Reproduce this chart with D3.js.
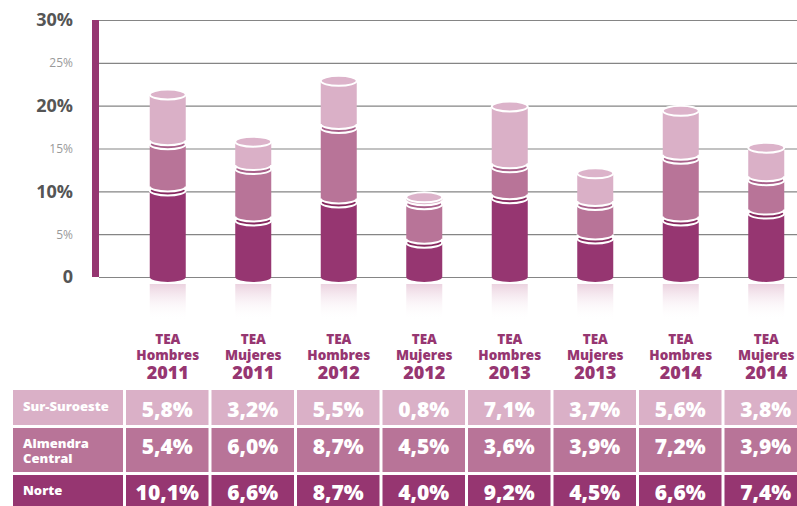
<!DOCTYPE html>
<html>
<head>
<meta charset="utf-8">
<script src="https://cdn.jsdelivr.net/npm/d3@7"></script>
<style>
  body { margin: 0; background: #fff; }
  svg { font-family: "Open Sans", sans-serif; display: block; }
</style>
</head>
<body>
<div id="chart"></div>
<script>
// chart data
const categories = ["TEA Hombres 2011", "TEA Mujeres 2011", "TEA Hombres 2012", "TEA Mujeres 2012",
  "TEA Hombres 2013", "TEA Mujeres 2013", "TEA Hombres 2014", "TEA Mujeres 2014"];
const series = ["Norte", "Almendra Central", "Sur-Suroeste"];
const norte = [10.1, 6.6, 8.7, 4.0, 9.2, 4.5, 6.6, 7.4];
const almendra = [5.4, 6.0, 8.7, 4.5, 3.6, 3.9, 7.2, 3.9];
const surSuroeste = [5.8, 3.2, 5.5, 0.8, 7.1, 3.7, 5.6, 3.8];
const yTicks = [0, 5, 10, 15, 20, 25, 30];

const colors = { "Norte": "#963671", "Almendra Central": "#b87498", "Sur-Suroeste": "#dab0c7" };
const capColors = { "Norte": "#86295f", "Almendra Central": "#a8608a", "Sur-Suroeste": "#dcb3ca" };
const values = { "Norte": norte, "Almendra Central": almendra, "Sur-Suroeste": surSuroeste };

const W = 797, H = 506;
const svg = d3.select("#chart").append("svg").attr("width", W).attr("height", H);

const x = d3.scaleBand().domain(categories).range([125, 125 + 8 * 85.5]).padding(0);
const y = d3.scaleLinear().domain([0, 30]).range([277, 20]);

// gridlines
svg.append("g")
  .attr("transform", "translate(99,0)")
  .call(d3.axisLeft(y).tickValues(yTicks).tickSize(-(W - 99)).tickFormat(""))
  .call(g => g.select(".domain").remove())
  .call(g => g.selectAll("line").attr("stroke", "#858585").attr("stroke-width", 1.2));

// y labels
svg.append("g")
  .attr("transform", "translate(73,0)")
  .call(d3.axisLeft(y).tickValues(yTicks).tickSize(0).tickPadding(0)
    .tickFormat(d => d === 0 ? "0" : d + "%"))
  .call(g => g.select(".domain").remove())
  .call(g => g.selectAll("text")
    .attr("font-family", "Open Sans, sans-serif")
    .attr("font-size", d => d % 10 === 0 ? 18 : 12)
    .attr("font-weight", d => d % 10 === 0 ? 700 : 400)
    .attr("fill", d => d % 10 === 0 ? "#555" : "#9a9a9a"));

// magenta axis bar
svg.append("rect").attr("x", 92).attr("y", y(30)).attr("width", 7)
  .attr("height", y(0) - y(30)).attr("fill", "#963671");

// reflection gradient
const defs = svg.append("defs");
const grad = defs.append("linearGradient").attr("id", "refl").attr("x1", 0).attr("y1", 0).attr("x2", 0).attr("y2", 1);
grad.append("stop").attr("offset", "0%").attr("stop-color", "#e9cddc").attr("stop-opacity", 0.9);
grad.append("stop").attr("offset", "100%").attr("stop-color", "#fff").attr("stop-opacity", 0);

const rx = 18, ry = 5;
categories.forEach((c, i) => {
  const cx = x(c) + x.bandwidth() / 2;
  const g = svg.append("g");
  g.append("rect").attr("x", cx - rx).attr("y", y(0) + ry + 2).attr("width", 2 * rx)
    .attr("height", 36).attr("fill", "url(#refl)");
  let cum = 0;
  series.forEach((s, k) => {
    const v = values[s][i];
    const yBot = k === 0 ? y(cum) : y(cum) - 4;
    const yTop = y(cum + v);
    cum += v;
    g.append("path")
      .attr("d", `M${cx - rx},${yTop} L${cx - rx},${yBot} A${rx},${ry} 0 0 0 ${cx + rx},${yBot} L${cx + rx},${yTop} Z`)
      .attr("fill", colors[s]);
    if (k > 0) {
      g.append("path")
        .attr("d", `M${cx - rx},${yBot} A${rx},${ry} 0 0 0 ${cx + rx},${yBot}`)
        .attr("fill", "none").attr("stroke", "#fff").attr("stroke-width", 2);
    }
    g.append("ellipse").attr("cx", cx).attr("cy", yTop).attr("rx", rx).attr("ry", ry)
      .attr("fill", capColors[s])
      .attr("stroke", "#fff").attr("stroke-width", 2);
  });

  // category label
  const parts = c.split(" ");
  const t = svg.append("text").attr("text-anchor", "middle").attr("fill", "#963671")
    .attr("font-weight", 800);
  t.append("tspan").attr("x", cx).attr("y", 344).attr("font-size", 13.5).text(parts[0]);
  t.append("tspan").attr("x", cx).attr("y", 360).attr("font-size", 13.5).text(parts[1]);
  t.append("tspan").attr("x", cx).attr("y", 379).attr("font-size", 18).text(parts[2]);
});

// table
const rows = [
  { s: "Sur-Suroeste", top: 390, h: 35, base: 417, label: ["Sur-Suroeste"], lbase: [411] },
  { s: "Almendra Central", top: 428, h: 44, base: 454, label: ["Almendra", "Central"], lbase: [448, 463] },
  { s: "Norte", top: 475, h: 40, base: 500, label: ["Norte"], lbase: [495] }
];
rows.forEach(r => {
  svg.append("rect").attr("x", 13).attr("y", r.top).attr("width", 110).attr("height", r.h)
    .attr("fill", colors[r.s]);
  r.label.forEach((l, j) => {
    svg.append("text").attr("x", 23).attr("y", r.lbase[j]).attr("fill", "#fff")
      .attr("font-size", 13).attr("font-weight", 800).text(l);
  });
  categories.forEach((c, i) => {
    svg.append("rect").attr("x", x(c) + 1).attr("y", r.top).attr("width", x.bandwidth() - 3)
      .attr("height", r.h).attr("fill", colors[r.s]);
    svg.append("text").attr("x", x(c) + x.bandwidth() / 2 - 0.5).attr("y", r.base)
      .attr("text-anchor", "middle").attr("fill", "#fff").attr("font-size", 21)
      .attr("font-weight", 800)
      .text(values[r.s][i].toFixed(1).replace(".", ",") + "%");
  });
});
</script>
</body>
</html>
